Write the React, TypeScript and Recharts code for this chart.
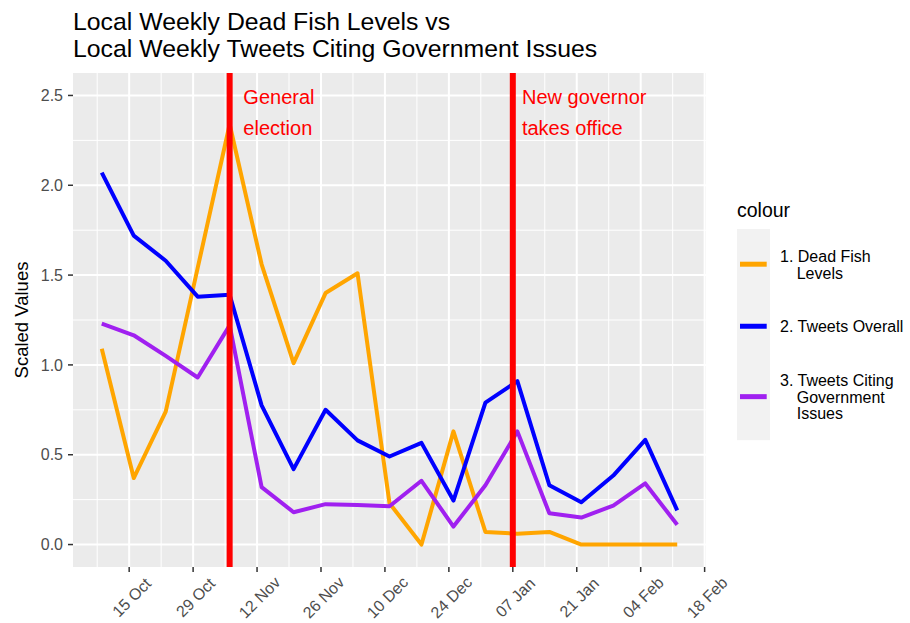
import React from 'react';
import {
    LineChart,
    Line,
    XAxis,
    YAxis,
    CartesianGrid,
    ReferenceLine,
    ReferenceDot,
    Legend,
} from 'recharts';

// weekly observations
const dates = [
    '2018-10-09', '2018-10-16', '2018-10-23', '2018-10-30', '2018-11-06',
    '2018-11-13', '2018-11-20', '2018-11-27', '2018-12-04', '2018-12-11',
    '2018-12-18', '2018-12-25', '2019-01-01', '2019-01-08', '2019-01-15',
    '2019-01-22', '2019-01-29', '2019-02-05', '2019-02-12',
];
const deadFish = [1.09, 0.37, 0.74, 1.54, 2.34, 1.56, 1.01, 1.40, 1.51, 0.23, 0.0, 0.63, 0.07, 0.06, 0.07, 0.0, 0.0, 0.0, 0.0];
const tweetsOverall = [2.07, 1.72, 1.58, 1.38, 1.39, 0.775, 0.42, 0.75, 0.58, 0.49, 0.566, 0.245, 0.79, 0.91, 0.33, 0.235, 0.384, 0.583, 0.19];
const govTweets = [1.23, 1.165, 1.05, 0.93, 1.22, 0.32, 0.18, 0.225, 0.22, 0.213, 0.355, 0.10, 0.33, 0.63, 0.174, 0.15, 0.217, 0.34, 0.11];

const seriesNames = ['1. Dead Fish Levels', '2. Tweets Overall', '3. Tweets Citing Government Issues'];
const legendLines = [['1. Dead Fish', 'Levels'], ['2. Tweets Overall'], ['3. Tweets Citing', 'Government', 'Issues']];
const seriesColors = ['#FFA500', '#0000FF', '#A020F0'];

const tickDates = [
    '2018-10-15', '2018-10-29', '2018-11-12', '2018-11-26', '2018-12-10',
    '2018-12-24', '2019-01-07', '2019-01-21', '2019-02-04', '2019-02-18',
];
const tickLabels = ['15 Oct', '29 Oct', '12 Nov', '26 Nov', '10 Dec', '24 Dec', '07 Jan', '21 Jan', '04 Feb', '18 Feb'];
const yTicks = [0, 0.5, 1, 1.5, 2, 2.5];

const eventDates = ['2018-11-06', '2019-01-07'];
const eventTextDates = ['2018-11-09', '2019-01-09'];
const eventTexts = [['General', 'election'], ['New governor', 'takes office']];
const eventTextY = 2.37;

const titleLines = ['Local Weekly Dead Fish Levels vs', 'Local Weekly Tweets Citing Government Issues'];

const FONT = '"Liberation Sans", Arial, Helvetica, sans-serif';
const DAY = 86400000;
const t0 = Date.parse(dates[0]);
const toDay = (s: string) => (Date.parse(s) - t0) / DAY;

const rows = dates.map((d, i) => ({
    day: toDay(d),
    deadFish: deadFish[i],
    tweetsOverall: tweetsOverall[i],
    govTweets: govTweets[i],
}));

const span = toDay(dates[dates.length - 1]);
const xDomain = [-span * 0.05, span * 1.05];
const tickDays = tickDates.map(toDay);
const minorDays = tickDays.map(d => d - 7);
const minorY = yTicks.slice(0, -1).map(v => v + 0.25);

function DateTick({ x, y, payload }: any) {
    const idx = tickDays.indexOf(payload.value);
    return (
        <text
            transform={`translate(${x + 2.5},${y + 25.5}) rotate(-45)`}
            textAnchor="middle"
            dominantBaseline="central"
            fontSize={16}
            fill="#4d4d4d"
        >
            {idx >= 0 ? tickLabels[idx] : ''}
        </text>
    );
}

function YTitle({ viewBox }: any) {
    const cy = viewBox.y + viewBox.height / 2;
    return (
        <text
            x={21.5}
            y={cy}
            transform={`rotate(-90, 21.5, ${cy})`}
            textAnchor="middle"
            dominantBaseline="central"
            fontSize={18.5}
            fill="#000"
        >
            Scaled Values
        </text>
    );
}

function eventLabel(lines: string[]) {
    return ({ viewBox }: any) => {
        const x = viewBox.x + viewBox.width / 2;
        const cy = viewBox.y + viewBox.height / 2;
        return (
            <text x={x} y={cy} fontSize={20} fill="#FF0000">
                {lines.map((l, i) => (
                    <tspan key={l} x={x} y={cy - 15 + i * 31}>{l}</tspan>
                ))}
            </text>
        );
    };
}

function LegendBox() {
    const itemPad = 37;
    const lineH = 16.7;
    let top = 39;
    const items = legendLines.map((lines, i) => {
        const h = itemPad + lines.length * lineH;
        const cy = top + h / 2;
        top += h;
        return (
            <g key={seriesNames[i]}>
                <line x1={20} x2={46.7} y1={cy} y2={cy} stroke={seriesColors[i]} strokeWidth={5} />
                <text fontSize={16} fill="#000">
                    {lines.map((l, j) => (
                        <tspan key={l} x={j === 0 ? 60 : 76.7} y={cy - ((lines.length - 1) * lineH) / 2 + j * lineH + 6}>
                            {l}
                        </tspan>
                    ))}
                </text>
            </g>
        );
    });
    return (
        <svg width={190} height={260} style={{ fontFamily: FONT, display: 'block' }}>
            <text x={17} y={26.7} fontSize={19.5} fill="#000">colour</text>
            <rect x={17} y={39} width={33} height={top - 39} fill="#f2f2f2" />
            {items}
        </svg>
    );
}

export default function App() {
    return (
        <div style={{ position: 'absolute', left: 0, top: 0, width: 910, height: 623, background: '#fff', fontFamily: FONT }}>
            <div style={{ position: 'absolute', left: 73, top: 7.5, fontSize: 24.8, lineHeight: '27px', color: '#000', whiteSpace: 'nowrap' }}>
                {titleLines.map(l => <div key={l}>{l}</div>)}
            </div>
            <LineChart width={910} height={623} data={rows} margin={{ top: 73, right: 204, bottom: 0, left: 0 }}>
                <CartesianGrid
                    fill="#ebebeb"
                    fillOpacity={1}
                    stroke="#ffffff"
                    strokeWidth={1}
                    horizontalValues={minorY}
                    verticalValues={minorDays}
                />
                <CartesianGrid
                    stroke="#ffffff"
                    strokeWidth={2}
                    horizontalValues={yTicks}
                    verticalValues={tickDays}
                />
                <XAxis
                    dataKey="day"
                    type="number"
                    domain={xDomain}
                    allowDataOverflow
                    ticks={tickDays}
                    tick={<DateTick />}
                    tickSize={5}
                    tickMargin={0}
                    axisLine={false}
                    tickLine={{ stroke: '#333333', strokeWidth: 1.5 }}
                    height={56}
                    interval={0}
                />
                <YAxis
                    type="number"
                    domain={[-0.125, 2.625]}
                    allowDataOverflow
                    ticks={yTicks}
                    tickFormatter={(v: number) => v.toFixed(1)}
                    tick={{ fill: '#4d4d4d', fontSize: 16 }}
                    tickSize={5}
                    tickMargin={5}
                    axisLine={false}
                    tickLine={{ stroke: '#333333', strokeWidth: 1.5 }}
                    width={73}
                    interval={0}
                    label={(p: any) => <YTitle {...p} />}
                />
                <Line type="linear" dataKey="deadFish" name={seriesNames[0]} stroke={seriesColors[0]} strokeWidth={4} strokeLinejoin="round" dot={false} activeDot={false} isAnimationActive={false} />
                <Line type="linear" dataKey="tweetsOverall" name={seriesNames[1]} stroke={seriesColors[1]} strokeWidth={4} strokeLinejoin="round" dot={false} activeDot={false} isAnimationActive={false} />
                <Line type="linear" dataKey="govTweets" name={seriesNames[2]} stroke={seriesColors[2]} strokeWidth={4} strokeLinejoin="round" dot={false} activeDot={false} isAnimationActive={false} />
                {eventDates.map(d => (
                    <ReferenceLine key={d} x={toDay(d)} stroke="#FF0000" strokeWidth={6} isFront />
                ))}
                {eventTextDates.map((d, i) => (
                    <ReferenceDot
                        key={d}
                        x={toDay(d)}
                        y={eventTextY}
                        r={0}
                        fill="none"
                        stroke="none"
                        isFront
                        label={eventLabel(eventTexts[i])}
                    />
                ))}
                <Legend
                    layout="vertical"
                    align="center"
                    verticalAlign="middle"
                    wrapperStyle={{ left: 720, top: 190, width: 190, height: 260 }}
                    content={() => <LegendBox />}
                />
            </LineChart>
        </div>
    );
}
